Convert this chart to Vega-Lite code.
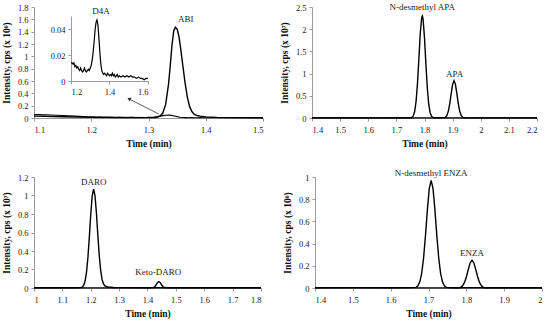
{
  "$schema": "https://vega.github.io/schema/vega-lite/v6.json",
  "padding": {"left": 1, "top": 3, "right": 2, "bottom": 2},
  "background": "white",
  "config": {
    "view": {"stroke": null},
    "font": "Liberation Serif",
    "axis": {
      "grid": false,
      "minExtent": 0,
      "domainColor": "#9a9a9a",
      "tickColor": "#9a9a9a",
      "tickSize": 3,
      "labelFont": "Liberation Serif",
      "labelFontSize": 8.5,
      "labelColor": "#222",
      "titleFont": "Liberation Serif",
      "titleFontSize": 9.5,
      "titleFontWeight": "bold",
      "titleColor": "#111",
      "format": "~g"
    },
    "axisX": {"labelPadding": 4, "titlePadding": 5},
    "axisY": {"labelPadding": 3, "titlePadding": 6},
    "line": {"color": "black", "strokeWidth": 1.4},
    "text": {"font": "Liberation Serif", "fontSize": 9, "color": "#222"}
  },
  "datasets": {
    "abi": [
      {"t": 1.10, "y": 0.03}, {"t": 1.12, "y": 0.026}, {"t": 1.15, "y": 0.02}, {"t": 1.2, "y": 0.012},
      {"t": 1.25, "y": 0.008}, {"t": 1.3, "y": 0.006}, {"t": 1.31, "y": 0.008}, {"t": 1.315, "y": 0.012},
      {"t": 1.32, "y": 0.03}, {"t": 1.325, "y": 0.08}, {"t": 1.33, "y": 0.22}, {"t": 1.335, "y": 0.55},
      {"t": 1.338, "y": 0.85}, {"t": 1.341, "y": 1.18}, {"t": 1.344, "y": 1.41}, {"t": 1.347, "y": 1.47},
      {"t": 1.35, "y": 1.44}, {"t": 1.353, "y": 1.33}, {"t": 1.356, "y": 1.14}, {"t": 1.36, "y": 0.85},
      {"t": 1.364, "y": 0.56}, {"t": 1.368, "y": 0.33}, {"t": 1.372, "y": 0.18}, {"t": 1.376, "y": 0.1},
      {"t": 1.38, "y": 0.06}, {"t": 1.385, "y": 0.04}, {"t": 1.39, "y": 0.03}, {"t": 1.4, "y": 0.018},
      {"t": 1.42, "y": 0.01}, {"t": 1.45, "y": 0.006}, {"t": 1.5, "y": 0.004}
    ],
    "d4a": [
      {"t": 1.10, "y": 0.052}, {"t": 1.105, "y": 0.055}, {"t": 1.11, "y": 0.054}, {"t": 1.115, "y": 0.05},
      {"t": 1.12, "y": 0.053}, {"t": 1.13, "y": 0.048}, {"t": 1.14, "y": 0.044}, {"t": 1.16, "y": 0.036},
      {"t": 1.18, "y": 0.026}, {"t": 1.19, "y": 0.02}, {"t": 1.2, "y": 0.014}, {"t": 1.205, "y": 0.014},
      {"t": 1.21, "y": 0.013}, {"t": 1.215, "y": 0.014}, {"t": 1.22, "y": 0.011}, {"t": 1.225, "y": 0.012},
      {"t": 1.23, "y": 0.01}, {"t": 1.235, "y": 0.011}, {"t": 1.24, "y": 0.009}, {"t": 1.245, "y": 0.008},
      {"t": 1.25, "y": 0.01}, {"t": 1.255, "y": 0.008}, {"t": 1.26, "y": 0.007}, {"t": 1.265, "y": 0.008},
      {"t": 1.27, "y": 0.01}, {"t": 1.275, "y": 0.008}, {"t": 1.28, "y": 0.007}, {"t": 1.285, "y": 0.008},
      {"t": 1.29, "y": 0.009}, {"t": 1.295, "y": 0.008}, {"t": 1.3, "y": 0.01}, {"t": 1.305, "y": 0.012},
      {"t": 1.31, "y": 0.016}, {"t": 1.315, "y": 0.022}, {"t": 1.32, "y": 0.03}, {"t": 1.325, "y": 0.039},
      {"t": 1.33, "y": 0.045}, {"t": 1.335, "y": 0.047}, {"t": 1.34, "y": 0.043}, {"t": 1.345, "y": 0.033},
      {"t": 1.35, "y": 0.022}, {"t": 1.355, "y": 0.013}, {"t": 1.36, "y": 0.008}, {"t": 1.365, "y": 0.006},
      {"t": 1.37, "y": 0.005}, {"t": 1.375, "y": 0.006}, {"t": 1.38, "y": 0.005}, {"t": 1.385, "y": 0.004},
      {"t": 1.39, "y": 0.006}, {"t": 1.395, "y": 0.005}, {"t": 1.4, "y": 0.004}, {"t": 1.405, "y": 0.005},
      {"t": 1.41, "y": 0.004}, {"t": 1.415, "y": 0.006}, {"t": 1.42, "y": 0.004}, {"t": 1.425, "y": 0.005},
      {"t": 1.43, "y": 0.003}, {"t": 1.435, "y": 0.004}, {"t": 1.44, "y": 0.005}, {"t": 1.445, "y": 0.003},
      {"t": 1.45, "y": 0.004}, {"t": 1.46, "y": 0.003}, {"t": 1.47, "y": 0.004}, {"t": 1.48, "y": 0.003},
      {"t": 1.49, "y": 0.004}, {"t": 1.5, "y": 0.003}, {"t": 1.51, "y": 0.004}, {"t": 1.52, "y": 0.003},
      {"t": 1.53, "y": 0.003}, {"t": 1.54, "y": 0.002}, {"t": 1.55, "y": 0.003}, {"t": 1.56, "y": 0.002},
      {"t": 1.57, "y": 0.002}, {"t": 1.58, "y": 0.001}, {"t": 1.59, "y": 0.002}, {"t": 1.6, "y": 0.002}
    ],
    "apa": [
      {"s": "N-desmethyl APA", "t": 1.4, "y": 0.003}, {"s": "N-desmethyl APA", "t": 1.45, "y": 0.004},
      {"s": "N-desmethyl APA", "t": 1.5, "y": 0.006}, {"s": "N-desmethyl APA", "t": 1.55, "y": 0.004},
      {"s": "N-desmethyl APA", "t": 1.6, "y": 0.003}, {"s": "N-desmethyl APA", "t": 1.65, "y": 0.003},
      {"s": "N-desmethyl APA", "t": 1.7, "y": 0.004}, {"s": "N-desmethyl APA", "t": 1.74, "y": 0.005},
      {"s": "N-desmethyl APA", "t": 1.75, "y": 0.006}, {"s": "N-desmethyl APA", "t": 1.755, "y": 0.013},
      {"s": "N-desmethyl APA", "t": 1.76, "y": 0.048}, {"s": "N-desmethyl APA", "t": 1.765, "y": 0.146},
      {"s": "N-desmethyl APA", "t": 1.77, "y": 0.369}, {"s": "N-desmethyl APA", "t": 1.775, "y": 0.772},
      {"s": "N-desmethyl APA", "t": 1.78, "y": 1.335}, {"s": "N-desmethyl APA", "t": 1.785, "y": 1.91},
      {"s": "N-desmethyl APA", "t": 1.79, "y": 2.266}, {"s": "N-desmethyl APA", "t": 1.7925, "y": 2.3},
      {"s": "N-desmethyl APA", "t": 1.795, "y": 2.22}, {"s": "N-desmethyl APA", "t": 1.8, "y": 1.805},
      {"s": "N-desmethyl APA", "t": 1.805, "y": 1.214}, {"s": "N-desmethyl APA", "t": 1.81, "y": 0.676},
      {"s": "N-desmethyl APA", "t": 1.815, "y": 0.311}, {"s": "N-desmethyl APA", "t": 1.82, "y": 0.119},
      {"s": "N-desmethyl APA", "t": 1.825, "y": 0.037}, {"s": "N-desmethyl APA", "t": 1.83, "y": 0.012},
      {"s": "N-desmethyl APA", "t": 1.835, "y": 0.006}, {"s": "N-desmethyl APA", "t": 1.85, "y": 0.004},
      {"s": "N-desmethyl APA", "t": 1.9, "y": 0.003}, {"s": "N-desmethyl APA", "t": 2.0, "y": 0.003},
      {"s": "N-desmethyl APA", "t": 2.1, "y": 0.002}, {"s": "N-desmethyl APA", "t": 2.2, "y": 0.002},
      {"s": "APA", "t": 1.4, "y": 0.002}, {"s": "APA", "t": 1.6, "y": 0.002}, {"s": "APA", "t": 1.8, "y": 0.002},
      {"s": "APA", "t": 1.87, "y": 0.003}, {"s": "APA", "t": 1.875, "y": 0.02}, {"s": "APA", "t": 1.88, "y": 0.064},
      {"s": "APA", "t": 1.885, "y": 0.161}, {"s": "APA", "t": 1.89, "y": 0.331}, {"s": "APA", "t": 1.895, "y": 0.556},
      {"s": "APA", "t": 1.9, "y": 0.758}, {"s": "APA", "t": 1.905, "y": 0.84}, {"s": "APA", "t": 1.91, "y": 0.758},
      {"s": "APA", "t": 1.915, "y": 0.556}, {"s": "APA", "t": 1.92, "y": 0.331}, {"s": "APA", "t": 1.925, "y": 0.161},
      {"s": "APA", "t": 1.93, "y": 0.064}, {"s": "APA", "t": 1.935, "y": 0.02}, {"s": "APA", "t": 1.94, "y": 0.005},
      {"s": "APA", "t": 1.95, "y": 0.003}, {"s": "APA", "t": 2.05, "y": 0.002}, {"s": "APA", "t": 2.2, "y": 0.002}
    ],
    "daro": [
      {"s": "DARO", "t": 1.0, "y": 0.002}, {"s": "DARO", "t": 1.1, "y": 0.002}, {"s": "DARO", "t": 1.15, "y": 0.003},
      {"s": "DARO", "t": 1.165, "y": 0.004}, {"s": "DARO", "t": 1.17, "y": 0.009}, {"s": "DARO", "t": 1.175, "y": 0.029},
      {"s": "DARO", "t": 1.18, "y": 0.075}, {"s": "DARO", "t": 1.185, "y": 0.168}, {"s": "DARO", "t": 1.19, "y": 0.328},
      {"s": "DARO", "t": 1.195, "y": 0.55}, {"s": "DARO", "t": 1.2, "y": 0.796}, {"s": "DARO", "t": 1.205, "y": 0.994},
      {"s": "DARO", "t": 1.21, "y": 1.07}, {"s": "DARO", "t": 1.215, "y": 1.0}, {"s": "DARO", "t": 1.22, "y": 0.81},
      {"s": "DARO", "t": 1.225, "y": 0.57}, {"s": "DARO", "t": 1.23, "y": 0.35}, {"s": "DARO", "t": 1.235, "y": 0.19},
      {"s": "DARO", "t": 1.24, "y": 0.09}, {"s": "DARO", "t": 1.245, "y": 0.045}, {"s": "DARO", "t": 1.25, "y": 0.022},
      {"s": "DARO", "t": 1.26, "y": 0.011}, {"s": "DARO", "t": 1.28, "y": 0.006}, {"s": "DARO", "t": 1.3, "y": 0.004},
      {"s": "DARO", "t": 1.4, "y": 0.003}, {"s": "DARO", "t": 1.6, "y": 0.002}, {"s": "DARO", "t": 1.8, "y": 0.002},
      {"s": "Keto-DARO", "t": 1.0, "y": 0.001}, {"s": "Keto-DARO", "t": 1.3, "y": 0.001}, {"s": "Keto-DARO", "t": 1.41, "y": 0.002},
      {"s": "Keto-DARO", "t": 1.42, "y": 0.004}, {"s": "Keto-DARO", "t": 1.425, "y": 0.012}, {"s": "Keto-DARO", "t": 1.43, "y": 0.032},
      {"s": "Keto-DARO", "t": 1.435, "y": 0.058}, {"s": "Keto-DARO", "t": 1.44, "y": 0.07}, {"s": "Keto-DARO", "t": 1.445, "y": 0.058},
      {"s": "Keto-DARO", "t": 1.45, "y": 0.032}, {"s": "Keto-DARO", "t": 1.455, "y": 0.013}, {"s": "Keto-DARO", "t": 1.46, "y": 0.005},
      {"s": "Keto-DARO", "t": 1.47, "y": 0.002}, {"s": "Keto-DARO", "t": 1.6, "y": 0.001}, {"s": "Keto-DARO", "t": 1.8, "y": 0.001}
    ],
    "enza": [
      {"s": "N-desmethyl ENZA", "t": 1.4, "y": 0.002}, {"s": "N-desmethyl ENZA", "t": 1.5, "y": 0.003},
      {"s": "N-desmethyl ENZA", "t": 1.6, "y": 0.002}, {"s": "N-desmethyl ENZA", "t": 1.65, "y": 0.003},
      {"s": "N-desmethyl ENZA", "t": 1.667, "y": 0.006}, {"s": "N-desmethyl ENZA", "t": 1.672, "y": 0.019},
      {"s": "N-desmethyl ENZA", "t": 1.677, "y": 0.055}, {"s": "N-desmethyl ENZA", "t": 1.682, "y": 0.131},
      {"s": "N-desmethyl ENZA", "t": 1.687, "y": 0.27}, {"s": "N-desmethyl ENZA", "t": 1.692, "y": 0.472},
      {"s": "N-desmethyl ENZA", "t": 1.697, "y": 0.704}, {"s": "N-desmethyl ENZA", "t": 1.702, "y": 0.895},
      {"s": "N-desmethyl ENZA", "t": 1.707, "y": 0.97}, {"s": "N-desmethyl ENZA", "t": 1.712, "y": 0.895},
      {"s": "N-desmethyl ENZA", "t": 1.717, "y": 0.704}, {"s": "N-desmethyl ENZA", "t": 1.722, "y": 0.472},
      {"s": "N-desmethyl ENZA", "t": 1.727, "y": 0.27}, {"s": "N-desmethyl ENZA", "t": 1.732, "y": 0.131},
      {"s": "N-desmethyl ENZA", "t": 1.737, "y": 0.055}, {"s": "N-desmethyl ENZA", "t": 1.742, "y": 0.019},
      {"s": "N-desmethyl ENZA", "t": 1.747, "y": 0.006}, {"s": "N-desmethyl ENZA", "t": 1.76, "y": 0.002},
      {"s": "N-desmethyl ENZA", "t": 1.9, "y": 0.002}, {"s": "N-desmethyl ENZA", "t": 2.0, "y": 0.002},
      {"s": "ENZA", "t": 1.4, "y": 0.001}, {"s": "ENZA", "t": 1.7, "y": 0.001}, {"s": "ENZA", "t": 1.78, "y": 0.001},
      {"s": "ENZA", "t": 1.785, "y": 0.006}, {"s": "ENZA", "t": 1.79, "y": 0.019}, {"s": "ENZA", "t": 1.795, "y": 0.048},
      {"s": "ENZA", "t": 1.8, "y": 0.099}, {"s": "ENZA", "t": 1.805, "y": 0.165}, {"s": "ENZA", "t": 1.81, "y": 0.2255},
      {"s": "ENZA", "t": 1.815, "y": 0.25}, {"s": "ENZA", "t": 1.82, "y": 0.2255}, {"s": "ENZA", "t": 1.825, "y": 0.165},
      {"s": "ENZA", "t": 1.83, "y": 0.099}, {"s": "ENZA", "t": 1.835, "y": 0.048}, {"s": "ENZA", "t": 1.84, "y": 0.019},
      {"s": "ENZA", "t": 1.845, "y": 0.006}, {"s": "ENZA", "t": 1.85, "y": 0.002}, {"s": "ENZA", "t": 1.9, "y": 0.001},
      {"s": "ENZA", "t": 2.0, "y": 0.001}
    ]
  },
  "vconcat": [
    {
      "hconcat": [
        {
          "width": 229, "height": 111,
          "layer": [
            {
              "encoding": {
                "x": {"field": "t", "type": "quantitative", "scale": {"domain": [1.1, 1.5], "nice": false, "zero": false},
                      "axis": {"title": "Time (min)", "values": [1.1, 1.2, 1.3, 1.4, 1.5]}},
                "y": {"field": "y", "type": "quantitative", "scale": {"domain": [0, 1.8], "nice": false},
                      "axis": {"title": "Intensity, cps (x 10⁶)", "values": [0, 0.2, 0.4, 0.6, 0.8, 1, 1.2, 1.4, 1.6, 1.8]}}
              },
              "layer": [
                {"data": {"name": "abi"}, "mark": {"type": "line"}, "encoding": {}},
                {"data": {"name": "d4a"}, "transform": [{"filter": "datum.t <= 1.5"}], "mark": {"type": "line", "strokeWidth": 1.1}, "encoding": {}},
                {"data": {"values": [{"t": 1.318, "y": 0.065, "t2": 1.268, "y2": 0.3}]},
                 "mark": {"type": "rule", "color": "#333", "strokeWidth": 0.8},
                 "encoding": {"x2": {"field": "t2"}, "y2": {"field": "y2"}}},
                {"data": {"values": [{"t": 1.266, "y": 0.31}]},
                 "mark": {"type": "point", "shape": "triangle-up", "filled": true, "color": "#333", "size": 18, "angle": 297, "opacity": 1},
                 "encoding": {}},
                {"data": {"values": [{"t": 1.365, "y": 1.6, "label": "ABI"}]},
                 "mark": {"type": "text"}, "encoding": {"text": {"field": "label"}}}
              ]
            },
            {
              "encoding": {
                "x": {"field": "t", "type": "quantitative", "scale": {"domain": [1.2, 1.6], "nice": false, "zero": false, "range": [37, 114]},
                      "axis": {"title": null, "orient": "bottom", "offset": -37, "values": [1.2, 1.4, 1.6], "labelPadding": 3}},
                "y": {"field": "y", "type": "quantitative", "scale": {"domain": [0, 0.05], "nice": false, "range": [74, 9]},
                      "axis": {"title": null, "orient": "left", "offset": -37, "values": [0, 0.02, 0.04]}}
              },
              "layer": [
                {"data": {"name": "d4a"}, "transform": [{"filter": "datum.t >= 1.2"}], "mark": {"type": "line", "strokeWidth": 1.2}, "encoding": {}},
                {"data": {"values": [{"t": 1.356, "y": 0.0535, "label": "D4A"}]},
                 "mark": {"type": "text"}, "encoding": {"text": {"field": "label"}}}
              ]
            }
          ],
          "resolve": {"scale": {"x": "independent", "y": "independent"}, "axis": {"x": "independent", "y": "independent"}}
        },
        {
          "width": 225, "height": 111,
          "encoding": {
            "x": {"field": "t", "type": "quantitative", "scale": {"domain": [1.4, 2.2], "nice": false, "zero": false},
                  "axis": {"title": "Time (min)", "values": [1.4, 1.5, 1.6, 1.7, 1.8, 1.9, 2, 2.1, 2.2]}},
            "y": {"field": "y", "type": "quantitative", "scale": {"domain": [0, 2.5], "nice": false},
                  "axis": {"title": "Intensity, cps (x 10⁷)", "values": [0, 0.5, 1, 1.5, 2, 2.5]}}
          },
          "layer": [
            {"data": {"name": "apa"}, "mark": {"type": "line"}, "encoding": {"detail": {"field": "s"}}},
            {"data": {"values": [{"t": 1.792, "y": 2.49, "label": "N-desmethyl APA"}, {"t": 1.907, "y": 1.0, "label": "APA"}]},
             "mark": {"type": "text"}, "encoding": {"text": {"field": "label"}}}
          ]
        }
      ],
      "spacing": 13
    },
    {
      "hconcat": [
        {
          "width": 227, "height": 111,
          "encoding": {
            "x": {"field": "t", "type": "quantitative", "scale": {"domain": [1.0, 1.8], "nice": false, "zero": false},
                  "axis": {"title": "Time (min)", "values": [1, 1.1, 1.2, 1.3, 1.4, 1.5, 1.6, 1.7, 1.8]}},
            "y": {"field": "y", "type": "quantitative", "scale": {"domain": [0, 1.2], "nice": false},
                  "axis": {"title": "Intensity, cps (x 10⁷)", "values": [0, 0.2, 0.4, 0.6, 0.8, 1, 1.2]}}
          },
          "layer": [
            {"data": {"name": "daro"}, "mark": {"type": "line"}, "encoding": {"detail": {"field": "s"}}},
            {"data": {"values": [{"t": 1.211, "y": 1.146, "label": "DARO"}, {"t": 1.438, "y": 0.173, "label": "Keto-DARO"}]},
             "mark": {"type": "text"}, "encoding": {"text": {"field": "label"}}}
          ]
        },
        {
          "width": 227, "height": 111,
          "encoding": {
            "x": {"field": "t", "type": "quantitative", "scale": {"domain": [1.4, 2.0], "nice": false, "zero": false},
                  "axis": {"title": "Time (min)", "values": [1.4, 1.5, 1.6, 1.7, 1.8, 1.9, 2]}},
            "y": {"field": "y", "type": "quantitative", "scale": {"domain": [0, 1], "nice": false},
                  "axis": {"title": "Intensity, cps (x 10⁶)", "values": [0, 0.2, 0.4, 0.6, 0.8, 1]}}
          },
          "layer": [
            {"data": {"name": "enza"}, "mark": {"type": "line"}, "encoding": {"detail": {"field": "s"}}},
            {"data": {"values": [{"t": 1.707, "y": 1.04, "label": "N-desmethyl ENZA"}, {"t": 1.815, "y": 0.318, "label": "ENZA"}]},
             "mark": {"type": "text"}, "encoding": {"text": {"field": "label"}}}
          ]
        }
      ],
      "spacing": 18
    }
  ],
  "spacing": 20
}
